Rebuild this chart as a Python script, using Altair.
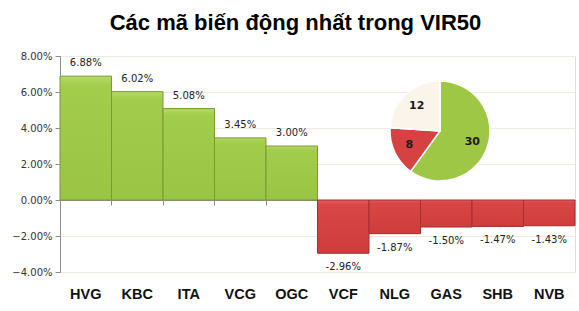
import altair as alt
import pandas as pd

# ---- data ----
tickers = ["HVG", "KBC", "ITA", "VCG", "OGC", "VCF", "NLG", "GAS", "SHB", "NVB"]
changes = [6.88, 6.02, 5.08, 3.45, 3.00, -2.96, -1.87, -1.50, -1.47, -1.43]

pie_groups = ["Tăng", "Giảm", "Đứng giá"]
pie_counts = [30, 8, 12]
pie_colors = ["#9DC745", "#D64141", "#FBF4EA"]

title_text = "Các mã biến động nhất trong VIR50"

bars_df = pd.DataFrame({"ticker": tickers, "pct": changes})
bars_df["label"] = [f"{v:.2f}%" for v in changes]
pie_df = pd.DataFrame({"group": pie_groups, "count": pie_counts,
                       "order": list(range(len(pie_groups)))})

W, H = 515, 216

x_enc = alt.X("ticker:N", sort=tickers,
              scale=alt.Scale(paddingInner=0, paddingOuter=0),
              axis=alt.Axis(title=None, orient="bottom", offset=-72,
                            bandPosition=0, domainColor="#8c8c8c",
                            tickColor="#8c8c8c", tickSize=5,
                            labelPadding=82, labelFont="Liberation Sans",
                            labelFontWeight="bold", labelFontSize=14.5,
                            labelColor="#111111", labelAngle=0))
y_enc = alt.Y("pct:Q", scale=alt.Scale(domain=[-4, 8], nice=False),
              axis=alt.Axis(title=None, values=[-4, -2, 0, 2, 4, 6, 8],
                            labelExpr="format(datum.value/100, '.2%')",
                            labelOverlap=False,
                            labelFont="DejaVu Sans", labelFontSize=10,
                            labelColor="#333333", domainColor="#8c8c8c",
                            tickColor="#8c8c8c", tickSize=5, labelPadding=3,
                            gridColor="#EFEAE0", gridWidth=1))

base = alt.Chart(bars_df)

green_grad = alt.Gradient(gradient="linear", x1=0, x2=0, y1=0, y2=1,
                          stops=[alt.GradientStop(color="#B5DA66", offset=0),
                                 alt.GradientStop(color="#A2CC4B", offset=0.08),
                                 alt.GradientStop(color="#9AC443", offset=1)])
red_grad = alt.Gradient(gradient="linear", x1=0, x2=0, y1=0, y2=1,
                        stops=[alt.GradientStop(color="#E35D5D", offset=0),
                               alt.GradientStop(color="#D94646", offset=0.1),
                               alt.GradientStop(color="#CF3C3C", offset=1)])

pos_bars = base.transform_filter("datum.pct >= 0").mark_bar(
    fill=green_grad, stroke="#789A33", strokeWidth=1
).encode(x=x_enc, y=y_enc, y2=alt.datum(0))

neg_bars = base.transform_filter("datum.pct < 0").mark_bar(
    fill=red_grad, stroke="#A52E2E", strokeWidth=1
).encode(x=x_enc, y=y_enc, y2=alt.datum(0))

pos_text = base.transform_filter("datum.pct >= 0").mark_text(
    dy=-13, baseline="middle", font="DejaVu Sans", fontSize=10, color="#222222"
).encode(x=x_enc, y=y_enc, text="label:N")

neg_text = base.transform_filter("datum.pct < 0").mark_text(
    dy=14, baseline="middle", font="DejaVu Sans", fontSize=10, color="#222222"
).encode(x=x_enc, y=y_enc, text="label:N")

pie_base = alt.Chart(pie_df).encode(
    theta=alt.Theta("count:Q", stack=True),
    order=alt.Order("order:O"),
)
pie = pie_base.mark_arc(outerRadius=50, stroke="#ffffff", strokeWidth=1.5).encode(
    color=alt.Color("group:N", scale=alt.Scale(domain=pie_groups, range=pie_colors),
                    legend=None),
    x=alt.value(380), y=alt.value(75),
)
pie_edge = pie_base.mark_arc(outerRadius=50, fillOpacity=0, stroke="#9a9a9a",
                             strokeWidth=0.6).encode(
    x=alt.value(380), y=alt.value(75),
)
pie_text = pie_base.mark_text(radius=34, font="DejaVu Sans", fontSize=11,
                              fontWeight="bold", color="#1a1a1a").encode(
    text="count:Q", x=alt.value(380), y=alt.value(75),
)

chart = alt.layer(pos_bars, neg_bars, pos_text, neg_text, pie_edge, pie, pie_text).properties(
    width=W, height=H,
    title=alt.TitleParams(title_text, font="Liberation Sans", fontSize=22,
                          fontWeight="bold", color="#000000", anchor="middle",
                          dx=-22, offset=16),
    padding={"left": 60, "top": 56, "right": 4, "bottom": 39},
    autosize=alt.AutoSizeParams(type="none"),
).configure_view(stroke=None).configure(background="#ffffff")

chart.save("out.html", embed_options={"renderer": "svg", "actions": False})
